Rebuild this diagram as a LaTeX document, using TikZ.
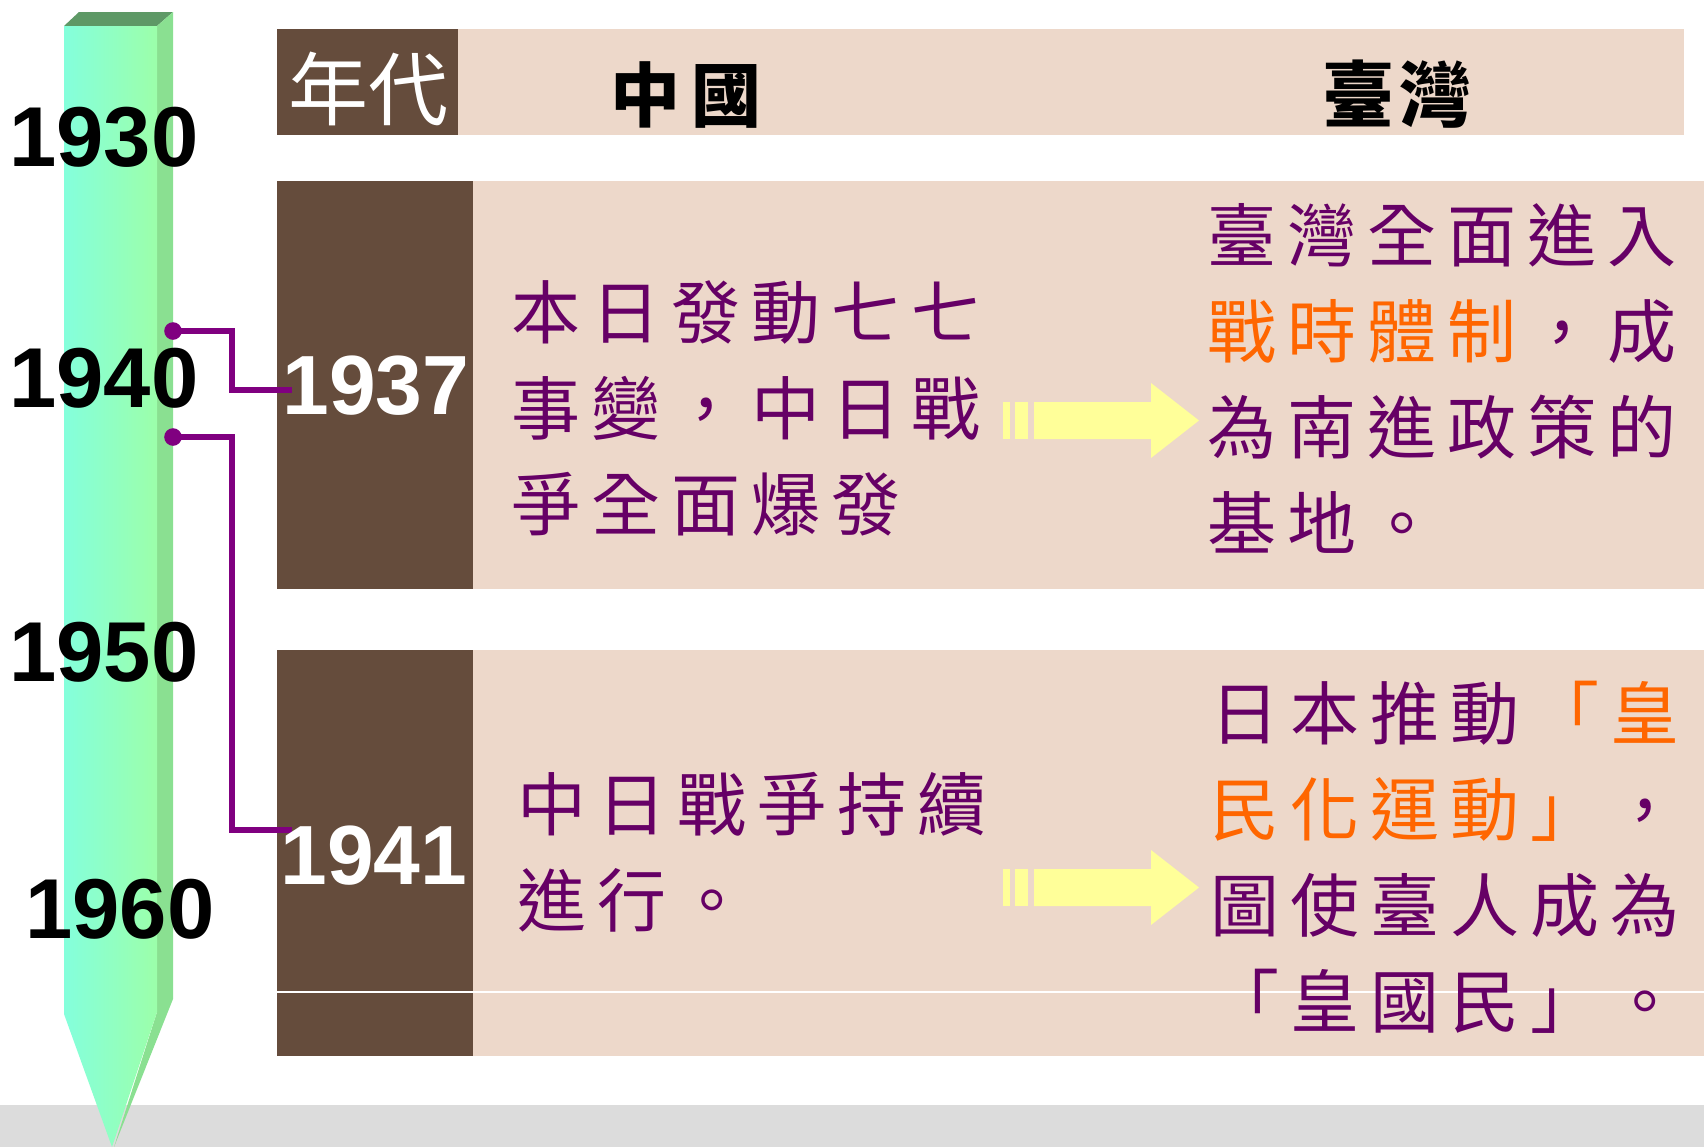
\documentclass[tikz,border=0pt]{standalone}
\usepackage{fontspec}
\setmainfont{Liberation Sans}
\newfontfamily\cjk{Noto Sans CJK TC}
\usetikzlibrary{calc}
\definecolor{brownbox}{HTML}{654C3C}
\definecolor{pinkbox}{HTML}{EDD8CA}
\definecolor{txtpurple}{HTML}{660066}
\definecolor{txtorange}{HTML}{FF6600}
\definecolor{connpurple}{HTML}{800080}
\definecolor{arrowyellow}{HTML}{FFFF99}
\definecolor{greybar}{HTML}{DCDCDC}
\definecolor{tlaqua}{HTML}{84FFDC}
\definecolor{tlgreen}{HTML}{9CFFAA}
\definecolor{tlside}{HTML}{8AE091}
\definecolor{tltop}{HTML}{5E9966}
\newlength\cw
\setlength\cw{40pt}
\def\trk#1{\trkA#1\relax}
\def\trkA#1{\ifx\relax#1\else\makebox[\cw][c]{#1}\expandafter\trkA\fi}
\tikzset{
  bgbox/.style={inner sep=0pt, outer sep=0pt, anchor=north west},
  brownbg/.style={bgbox, fill=brownbox},
  pinkbg/.style={bgbox, fill=pinkbox},
  tlyear/.style={inner sep=0pt, text=black, font=\fontsize{42.5pt}{42.5pt}\selectfont\bfseries},
  boxyear/.style={inner sep=0pt, text=white, font=\fontsize{42pt}{42pt}\selectfont\bfseries},
  bodytxt/.style={inner sep=0pt, anchor=west, align=left, text=txtpurple, font=\cjk\fontsize{34.5pt}{48pt}\selectfont},
  conn/.style={draw=connpurple, line width=2.6pt},
  dot/.style={fill=connpurple},
  yarrowfill/.style={fill=arrowyellow}
}
\begin{document}
\begin{tikzpicture}[x=0.5pt,y=-0.5pt]
\useasboundingbox (0,0) rectangle (1704,1147);
\fill[white] (0,0) rectangle (1704,1147);
% grey floor
\fill[greybar] (0,1105) rectangle (1704,1147);
% timeline bar
\fill[tltop] (64,26) -- (79,12) -- (173,12) -- (157,26) -- cycle;
\fill[tlside] (157,26) -- (173,12) -- (173,999) -- (114,1147) -- (157,1012) -- cycle;
\shade[left color=tlaqua, right color=tlgreen] (64,26) -- (157,26) -- (157,1012) -- (112,1147) -- (64,1014) -- cycle;
% header
\node[brownbg, minimum width=90.5pt, minimum height=53pt] (hdrL) at (277,29) {};
\node[pinkbg, minimum width=613pt, minimum height=53pt] (hdrR) at (458,29) {};
% rows
\node[brownbg, minimum width=98pt, minimum height=204pt] (r1L) at (277,181) {};
\node[pinkbg, minimum width=615.5pt, minimum height=204pt] (r1R) at (473,181) {};
\node[brownbg, minimum width=98pt, minimum height=203pt] (r2L) at (277,650) {};
\node[pinkbg, minimum width=615.5pt, minimum height=203pt] (r2R) at (473,650) {};
\draw[white, line width=0.6pt] (277,992) -- (1704,992);
% header texts
\node[inner sep=0pt, text=white, font=\cjk\fontsize{40pt}{40pt}\selectfont] (hYear) at (368,89) {年代};
\node[inner sep=0pt, text=black, font=\cjk\bfseries\fontsize{35pt}{35pt}\selectfont] (hCN) at (686,95) {\setlength\cw{41pt}\trk{中國}};
\node[inner sep=0pt, text=black, font=\cjk\bfseries\fontsize{36pt}{36pt}\selectfont] (hTW) at (1397,94) {\setlength\cw{39pt}\trk{臺灣}};
% connectors
\coordinate (d1) at (173,331);
\coordinate (k1) at (232,331);
\coordinate (e1) at (292,390);
\coordinate (d2) at (173,437);
\coordinate (k2) at (232,437);
\coordinate (e2) at (292,830);
\draw[conn] (d1) -- (k1) |- (e1);
\draw[conn] (d2) -- (k2) |- (e2);
\fill[dot] (d1) circle[radius=4.4pt];
\fill[dot] (d2) circle[radius=4.4pt];
% timeline years
\node[tlyear] (y1930) at (104,137) {1930};
\node[tlyear] (y1940) at (104,378) {1940};
\node[tlyear] (y1950) at (104,652) {1950};
\node[tlyear] (y1960) at (120,909) {1960};
% row years
\node[boxyear] (y1937) at (376,386) {1937};
\node[boxyear] (y1941) at (374,856) {1941};
% body texts
\node[bodytxt] (t1L) at (506,408.5) {\trk{本日發動七七}\\\trk{事變，中日戰}\\\trk{爭全面爆發}};
\node[bodytxt] (t1R) at (1202,378) {\trk{臺灣全面進入}\\{\color{txtorange}\trk{戰時體制}}\trk{，成}\\\trk{為南進政策的}\\\trk{基地。}};
\node[bodytxt] (t2L) at (512,852) {\trk{中日戰爭持續}\\\trk{進行。}};
\node[bodytxt] (t2R) at (1205,857) {\trk{日本推動}{\color{txtorange}\trk{「皇}}\\{\color{txtorange}\trk{民化運動」}}\trk{，}\\\trk{圖使臺人成為}\\\trk{「皇國民」。}};
% yellow arrows
\fill[yarrowfill] (1003,402) rectangle (1010,439);
\fill[yarrowfill] (1015,402) rectangle (1028,439);
\fill[yarrowfill] (1034,402) -- (1151,402) -- (1151,383) -- (1199,420.5) -- (1151,458) -- (1151,439) -- (1034,439) -- cycle;
\fill[yarrowfill] (1003,869) rectangle (1010,906);
\fill[yarrowfill] (1015,869) rectangle (1028,906);
\fill[yarrowfill] (1034,869) -- (1151,869) -- (1151,850) -- (1199,887.5) -- (1151,925) -- (1151,906) -- (1034,906) -- cycle;
\end{tikzpicture}
\end{document}
